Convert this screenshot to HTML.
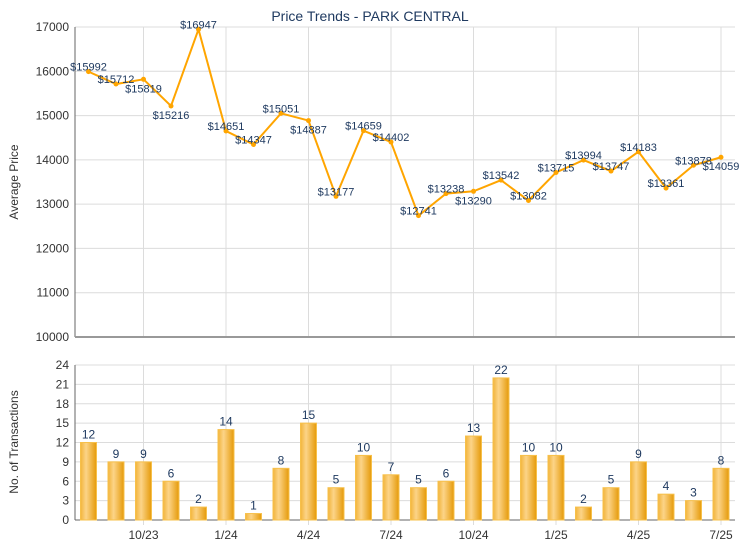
<!DOCTYPE html>
<html><head><meta charset="utf-8"><style>
body{margin:0;background:#fff;}
svg{display:block;font-family:"Liberation Sans",sans-serif;}
</style></head><body>
<svg id="c" width="740" height="550" xmlns="http://www.w3.org/2000/svg"></svg>
<script>
const months=["8/23","9/23","10/23","11/23","12/23","1/24","2/24","3/24","4/24","5/24","6/24","7/24","8/24","9/24","10/24","11/24","12/24","1/25","2/25","3/25","4/25","5/25","6/25","7/25"];
const prices=[15992,15712,15819,15216,16947,14651,14347,15051,14887,13177,14659,14402,12741,13238,13290,13542,13082,13715,13994,13747,14183,13361,13878,14059];
const counts=[12,9,9,6,2,14,1,8,15,5,10,7,5,6,13,22,10,10,2,5,9,4,3,8];
const priceTicks=[10000,11000,12000,13000,14000,15000,16000,17000];
const countTicks=[0,3,6,9,12,15,18,21,24];
const xLabels=["10/23","1/24","4/24","7/24","10/24","1/25","4/25","7/25"];
const labelBelow=[0,0,1,1,0,0,0,0,1,0,0,0,0,0,1,0,0,0,0,0,0,0,0,1];

const svg=document.getElementById('c');const NS='http://www.w3.org/2000/svg';
function el(t,a,p){const e=document.createElementNS(NS,t);for(const k in a)e.setAttribute(k,a[k]);(p||svg).appendChild(e);return e;}
const L=75,R=735;
const x=i=>88.5+i*27.5;
const yP=v=>27+(17000-v)*(310/7000);
const yC=v=>520-v*(155/24);
const defs=el('defs',{});
const g=el('linearGradient',{id:'bg',x1:'0',x2:'1',y1:'0',y2:'0'},defs);
el('stop',{offset:'0','stop-color':'#f2b43a'},g);el('stop',{offset:'0.35','stop-color':'#fcd488'},g);el('stop',{offset:'1','stop-color':'#e59a0a'},g);

let t=el('text',{x:370,y:21,'text-anchor':'middle','font-size':14,fill:'#1f3a60'});t.textContent='Price Trends - PARK CENTRAL';


priceTicks.forEach(v=>{const l=el('line',{x1:L,x2:R,y1:yP(v),y2:yP(v),stroke:'#dcdcdc'});
const tx=el('text',{x:L-6,y:yP(v)+4,'text-anchor':'end','font-size':12,fill:'#333'});tx.textContent=v;});
countTicks.forEach(v=>{const l=el('line',{x1:L,x2:R,y1:yC(v),y2:yC(v),stroke:'#dcdcdc'});
const tx=el('text',{x:L-6,y:yC(v)+4,'text-anchor':'end','font-size':12,fill:'#333'});tx.textContent=v;});
xLabels.forEach(m=>{const i=months.indexOf(m);
const l1=el('line',{x1:x(i),x2:x(i),y1:27,y2:337,stroke:'#dcdcdc'});
const l2=el('line',{x1:x(i),x2:x(i),y1:365,y2:525,stroke:'#dcdcdc'});
const tx=el('text',{x:x(i),y:539,'text-anchor':'middle','font-size':12,fill:'#333'});tx.textContent=m;});
el('line',{x1:L,x2:L,y1:27,y2:337,stroke:'#666'});
el('line',{x1:L,x2:R,y1:337,y2:337,stroke:'#999','stroke-width':2});
el('line',{x1:L,x2:L,y1:365,y2:520,stroke:'#666'});
el('line',{x1:L,x2:R,y1:520,y2:520,stroke:'#666'});
t=el('text',{transform:'translate(18,182) rotate(-90)','text-anchor':'middle','font-size':12,fill:'#333'});t.textContent='Average Price';
t=el('text',{transform:'translate(18,442) rotate(-90)','text-anchor':'middle','font-size':12,fill:'#333'});t.textContent='No. of Transactions';
const pl=el('polyline',{points:prices.map((v,i)=>x(i)+','+yP(v)).join(' '),fill:'none',stroke:'#ffa500','stroke-width':2});

prices.forEach((v,i)=>{const c=el('circle',{cx:x(i),cy:yP(v),r:2.5,fill:'#ffa500'});
const tx=el('text',{x:x(i),y:yP(v)+(labelBelow[i]?13:-1),'text-anchor':'middle','font-size':11,fill:'#1f3a60'});tx.textContent='$'+v;});
counts.forEach((v,i)=>{const b=el('rect',{x:x(i)-8,y:yC(v),width:16,height:520-yC(v),fill:'url(#bg)',stroke:'#f7c04a','stroke-width':1});
const tx=el('text',{x:x(i),y:yC(v)-4,'text-anchor':'middle','font-size':12,fill:'#1f3a60'});tx.textContent=v;});
</script>
</body></html>
